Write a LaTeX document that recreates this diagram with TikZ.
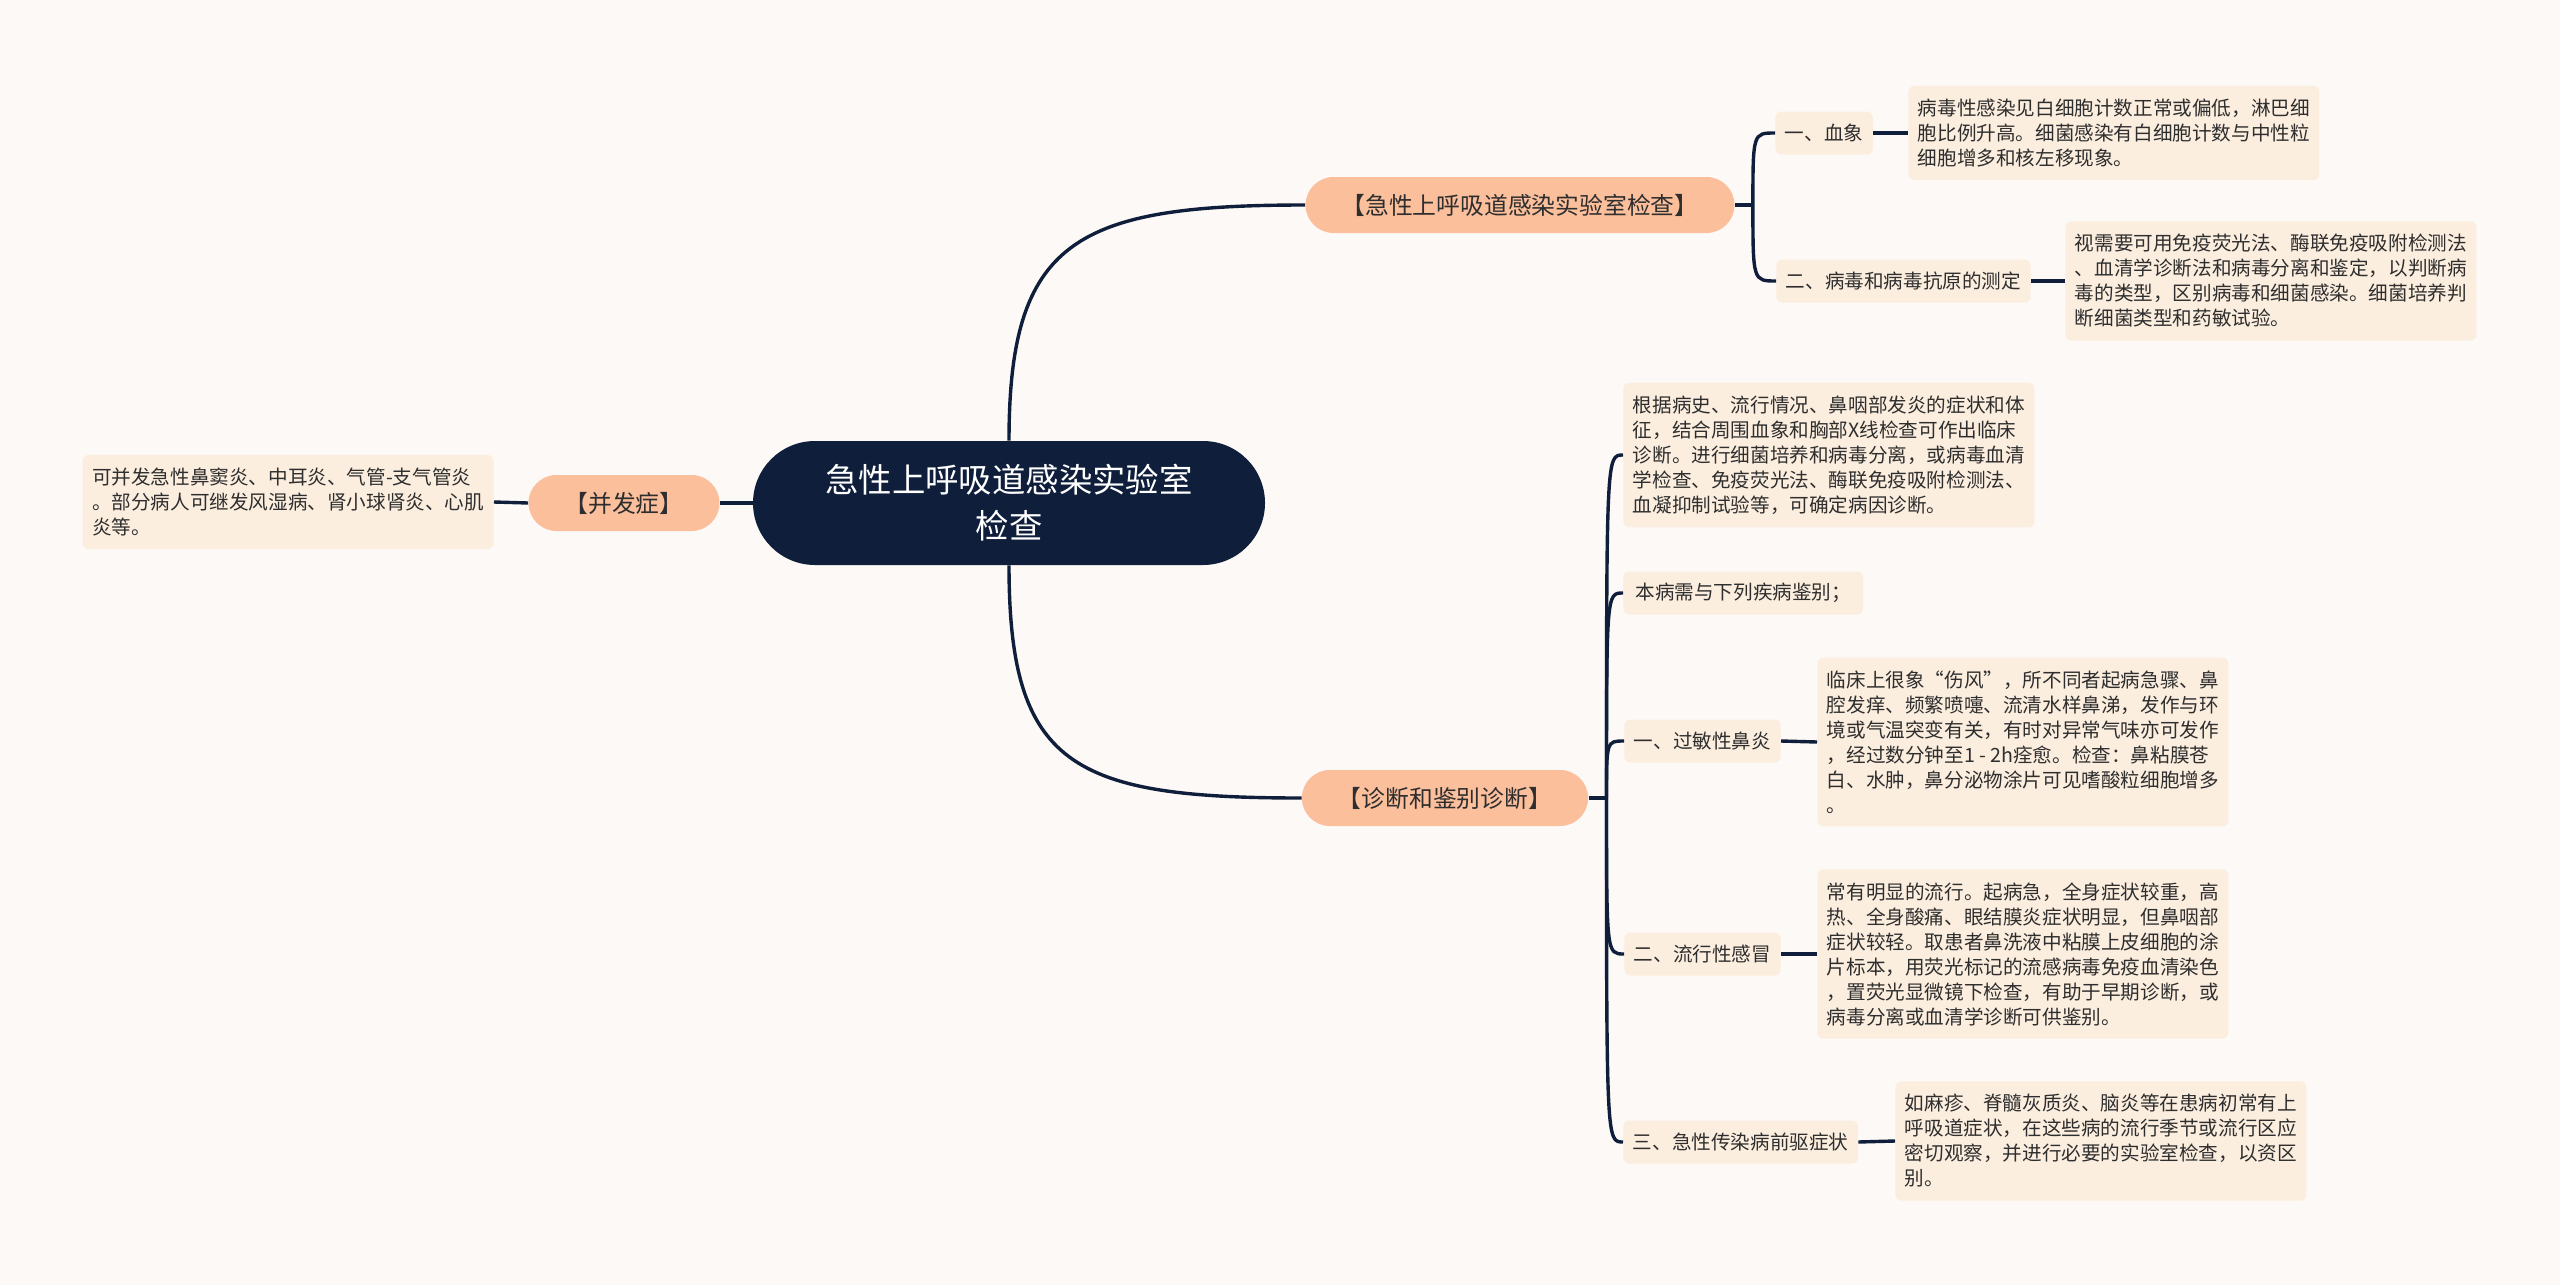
\documentclass[tikz,border=0pt]{standalone}
\usepackage{fontspec}
\setmainfont{Noto Sans CJK SC}

\definecolor{bgcol}{HTML}{FDF9F7}
\definecolor{navy}{HTML}{0F1F3B}
\definecolor{lachs}{HTML}{FBBF9C}
\definecolor{creme}{HTML}{FCEEDF}
\definecolor{tinte}{HTML}{2E2E2E}

\tikzset{
  rootnode/.style={fill=navy,text=white,rounded corners=31pt,minimum width=256pt,minimum height=62pt,align=center,font=\fontsize{16.7}{23}\selectfont},
  topic/.style={fill=lachs,text=tinte,rounded corners=14pt,minimum height=28pt,inner xsep=18pt,font=\fontsize{11.9}{14}\selectfont},
  subtopic/.style={fill=creme,text=tinte,rounded corners=3pt,minimum height=21.5pt,inner xsep=4.75pt,font=\fontsize{9.8}{12.5}\selectfont},
  leaf/.style={fill=creme,text=tinte,rounded corners=3pt,align=left,inner xsep=4.75pt,inner ysep=6.5pt,font=\fontsize{9.8}{12.5}\selectfont},
  link/.style={draw=navy,line width=1.7pt}
}

\begin{document}
\begin{tikzpicture}[x=0.5pt,y=-0.5pt]
  \fill[bgcol] (0,0) rectangle (2560,1285);
  \useasboundingbox (0,0) rectangle (2560,1285);

  % centre and main branches
  \node[rootnode] (root) at (1009,503) {急性上呼吸道感染实验室\\检查};
  \node[topic] (lab) at (1520,205) {【急性上呼吸道感染实验室检查】};
  \node[topic] (diag) at (1445,798) {【诊断和鉴别诊断】};
  \node[topic] (comp) at (624,503) {【并发症】};

  % left side
  \node[leaf,anchor=east] (compleaf) at (494,502) {可并发急性鼻窦炎、中耳炎、气管-支气管炎\\。部分病人可继发风湿病、肾小球肾炎、心肌\\炎等。};

  % laboratory branch
  \node[subtopic,anchor=west] (blut) at (1775,133) {一、血象};
  \node[leaf,anchor=west] (blutleaf) at (1908,133) {病毒性感染见白细胞计数正常或偏低，淋巴细\\胞比例升高。细菌感染有白细胞计数与中性粒\\细胞增多和核左移现象。};
  \node[subtopic,anchor=west] (antigen) at (1776,281) {二、病毒和病毒抗原的测定};
  \node[leaf,anchor=west] (antigenleaf) at (2065,281) {视需要可用免疫荧光法、酶联免疫吸附检测法\\、血清学诊断法和病毒分离和鉴定，以判断病\\毒的类型，区别病毒和细菌感染。细菌培养判\\断细菌类型和药敏试验。};

  % diagnosis branch
  \node[leaf,anchor=west] (basis) at (1623,455) {根据病史、流行情况、鼻咽部发炎的症状和体\\征，结合周围血象和胸部X线检查可作出临床\\诊断。进行细菌培养和病毒分离，或病毒血清\\学检查、免疫荧光法、酶联免疫吸附检测法、\\血凝抑制试验等，可确定病因诊断。};
  \node[subtopic,anchor=west,inner xsep=6pt] (diff) at (1623,593) {本病需与下列疾病鉴别；};
  \node[subtopic,anchor=west] (rhin) at (1624,741) {一、过敏性鼻炎};
  \node[leaf,anchor=west] (rhinleaf) at (1817,742) {临床上很象“伤风”，所不同者起病急骤、鼻\\腔发痒、频繁喷嚏、流清水样鼻涕，发作与环\\境或气温突变有关，有时对异常气味亦可发作\\，经过数分钟至1 - 2h痊愈。检查：鼻粘膜苍\\白、水肿，鼻分泌物涂片可见嗜酸粒细胞增多\\。};
  \node[subtopic,anchor=west] (flu) at (1624,954) {二、流行性感冒};
  \node[leaf,anchor=west] (fluleaf) at (1817,954) {常有明显的流行。起病急，全身症状较重，高\\热、全身酸痛、眼结膜炎症状明显，但鼻咽部\\症状较轻。取患者鼻洗液中粘膜上皮细胞的涂\\片标本，用荧光标记的流感病毒免疫血清染色\\，置荧光显微镜下检查，有助于早期诊断，或\\病毒分离或血清学诊断可供鉴别。};
  \node[subtopic,anchor=west] (prod) at (1623,1142) {三、急性传染病前驱症状};
  \node[leaf,anchor=west] (prodleaf) at (1895,1141) {如麻疹、脊髓灰质炎、脑炎等在患病初常有上\\呼吸道症状，在这些病的流行季节或流行区应\\密切观察，并进行必要的实验室检查，以资区\\别。};

  % connectors
  \draw[link] (root.north) .. controls +(0,-200) and +(-230,0) .. (lab.west);
  \draw[link] (root.south) .. controls +(0,200) and +(-230,0) .. (diag.west);
  \draw[link] (root.west) -- (comp.east);
  \draw[link] (comp.west) -- (compleaf.east);

  \draw[link] (lab.east) -- ++(18,0) coordinate (labj);
  \foreach \n in {blut,antigen}
    \draw[link] (labj) .. controls (labj |- \n.west) and (labj |- \n.west) .. (\n.west);
  \draw[link] (blut.east) -- (blutleaf.west);
  \draw[link] (antigen.east) -- (antigenleaf.west);

  \draw[link] (diag.east) -- ++(18,0) coordinate (diagj);
  \foreach \n in {basis,diff,rhin,flu,prod}
    \draw[link] (diagj) .. controls (diagj |- \n.west) and (diagj |- \n.west) .. (\n.west);
  \draw[link] (rhin.east) -- (rhinleaf.west);
  \draw[link] (flu.east) -- (fluleaf.west);
  \draw[link] (prod.east) -- (prodleaf.west);
\end{tikzpicture}
\end{document}
